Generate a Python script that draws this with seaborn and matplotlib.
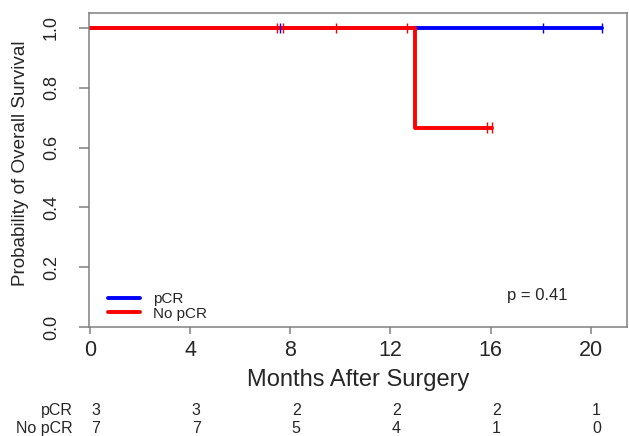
import numpy as np
import pandas as pd
import matplotlib
matplotlib.use("Agg")
import matplotlib.pyplot as plt
from matplotlib.lines import Line2D
import seaborn as sns

# Follow-up (months) and event flags (1 = death, 0 = censored) per group
groups = ["pCR", "No pCR"]
pcr_time = [7.58, 18.1, 20.45]
pcr_event = [0, 0, 0]
nopcr_time = [7.48, 7.70, 9.81, 12.67, 13.0, 15.85, 16.05]
nopcr_event = [0, 0, 0, 0, 1, 0, 0]
risk_times = [0, 4, 8, 12, 16, 20]
x_ticks = [0, 4, 8, 12, 16, 20]
y_ticks = [0.0, 0.2, 0.4, 0.6, 0.8, 1.0]
colors = {"pCR": "#0000FF", "No pCR": "#FF0000"}
p_label = "p = 0.41"

data = {"pCR": (pcr_time, pcr_event), "No pCR": (nopcr_time, nopcr_event)}


def kaplan_meier(times, events):
    t = np.asarray(times, float)
    e = np.asarray(events, int)
    order = np.argsort(t)
    t, e = t[order], e[order]
    steps_x, steps_y = [0.0], [1.0]
    cens_x, cens_y = [], []
    s = 1.0
    for ut in np.unique(t):
        n = np.sum(t >= ut)
        d = np.sum((t == ut) & (e == 1))
        if d > 0:
            s *= 1 - d / n
            steps_x.append(ut)
            steps_y.append(s)
        if np.any((t == ut) & (e == 0)):
            cens_x.append(ut)
            cens_y.append(s)
    steps_x.append(t.max())
    steps_y.append(s)
    return steps_x, steps_y, cens_x, cens_y


curve_rows, cens_rows = [], []
for g in groups:
    sx, sy, cx, cy = kaplan_meier(*data[g])
    curve_rows += [{"group": g, "time": a, "surv": b} for a, b in zip(sx, sy)]
    cens_rows += [{"group": g, "time": a, "surv": b} for a, b in zip(cx, cy)]
curves = pd.DataFrame(curve_rows)
cens = pd.DataFrame(cens_rows)

sns.set_theme(style="white")
plt.rcParams["font.family"] = ["Liberation Sans", "DejaVu Sans"]

fig = plt.figure(figsize=(6.29, 4.36), dpi=100)
ax = fig.add_axes([89 / 629, 1 - 327 / 436, 538 / 629, 314 / 436])

grey = "#808080"
lw = 2.8
sns.lineplot(data=curves, x="time", y="surv", hue="group", palette=colors,
             hue_order=groups, drawstyle="steps-post", estimator=None,
             sort=False, linewidth=lw, legend=False, ax=ax)
sns.scatterplot(data=cens, x="time", y="surv", hue="group", palette=colors,
                hue_order=groups, marker="|", s=55, linewidths=1.0,
                legend=False, ax=ax, zorder=4)

ax.set_xlim(-0.04, 21.45)
ax.set_ylim(0, 1.05)
ax.set_xticks(x_ticks)
ax.set_xticklabels([str(v) for v in x_ticks], fontsize=15.5)
ax.set_yticks(y_ticks)
ax.set_yticklabels([f"{v:.1f}" for v in y_ticks], fontsize=13,
                   rotation=90, va="center")
ax.tick_params(axis="x", length=5, width=1.1, color=grey, pad=4, bottom=True)
ax.tick_params(axis="y", length=7, width=1.1, color=grey, pad=14, left=True)
for sp in ax.spines.values():
    sp.set_color(grey)
    sp.set_linewidth(1.1)

ax.set_xlabel("Months After Surgery", fontsize=17, labelpad=6)
ax.set_ylabel("Probability of Overall Survival", fontsize=13.6)
ax.yaxis.set_label_coords(-0.112, 0.522)

handles = [Line2D([], [], color=colors[g], lw=lw) for g in groups]
ax.legend(handles, groups, loc="lower left", bbox_to_anchor=(0.035, 0.02),
          frameon=False, fontsize=11, handlelength=2.1, handletextpad=0.85,
          labelspacing=0.02, borderpad=0, borderaxespad=0)

ax.text(17.87, 0.104, p_label, fontsize=12, ha="center", va="center")

# Number at risk below the plot
row_y = {"pCR": 1 - 410 / 436, "No pCR": 1 - 428 / 436}
for g in groups:
    t = np.asarray(data[g][0])
    fig.text(73 / 629, row_y[g], g, ha="right", va="center", fontsize=11.5)
    for rt in risk_times:
        n = int(np.sum(t >= rt))
        ax.annotate(str(n), xy=(rt, row_y[g]),
                    xycoords=("data", "figure fraction"),
                    xytext=(4.3, 0), textcoords="offset points",
                    ha="center", va="center", fontsize=11.5,
                    annotation_clip=False)

fig.savefig("out.png", dpi=100)
